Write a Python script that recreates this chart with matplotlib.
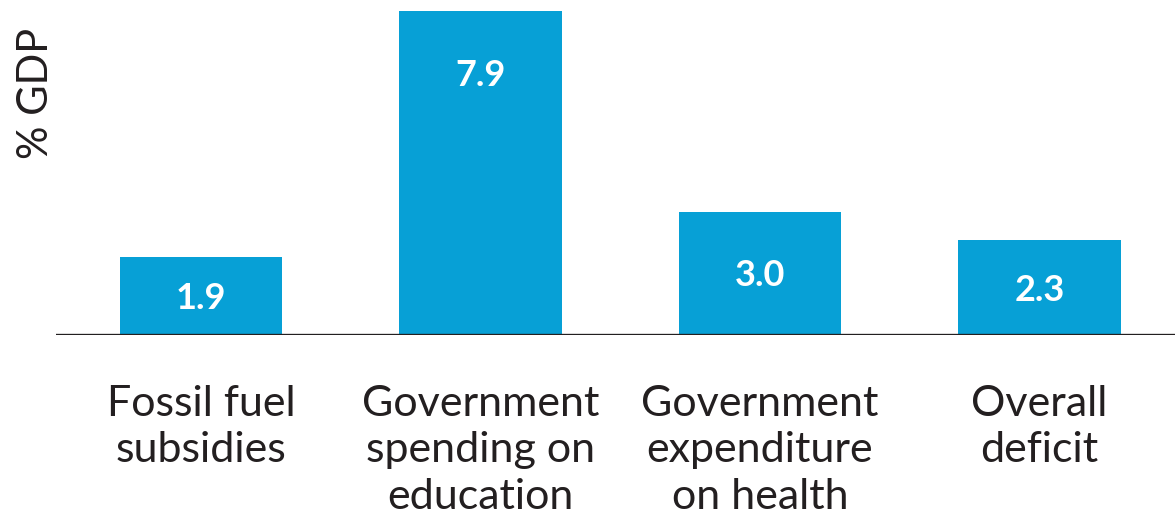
import matplotlib
matplotlib.use("Agg")
import matplotlib.pyplot as plt

categories = ["Fossil fuel\nsubsidies", "Government\nspending on\neducation",
              "Government\nexpenditure\non health", "Overall\ndeficit"]
values = [1.9, 7.9, 3.0, 2.3]
value_labels = ["1.9", "7.9", "3.0", "2.3"]

BAR = "#07A0D6"
INK = "#231F20"

plt.rcParams['font.family'] = ['Lato', 'DejaVu Sans']

fig = plt.figure(figsize=(11.75, 5.27), dpi=100)
ax = fig.add_axes([56/1175, 1 - 334.5/527, 1 - 56/1175, 334.5/527])

x = list(range(len(values)))
ax.bar(x, values, width=0.58, color=BAR, zorder=2)
ax.axhline(0, color=INK, linewidth=2.4, zorder=3)

ax.set_xlim(-0.519, 3.485)
ax.set_ylim(0, 8.18)

for xi, v, lab in zip(x, values, value_labels):
    yc = max(v / 2, v - 1.5)
    ax.annotate(lab, (xi, yc), xytext=(0, -9.5), textcoords='offset points',
                ha='center', va='baseline', color='white',
                fontsize=26, fontweight='bold', zorder=4)

ax.set_xticks(x)
ax.set_xticklabels(categories, fontsize=31, color=INK, linespacing=1.29)
ax.tick_params(axis='x', length=0, pad=36)
ax.set_yticks([])
for s in ax.spines.values():
    s.set_visible(False)

fig.text(36/1175, 1 - 93/527, "% GDP", rotation=90, ha='center', va='center',
         fontsize=30, color=INK)

fig.savefig("out.png", dpi=100)
